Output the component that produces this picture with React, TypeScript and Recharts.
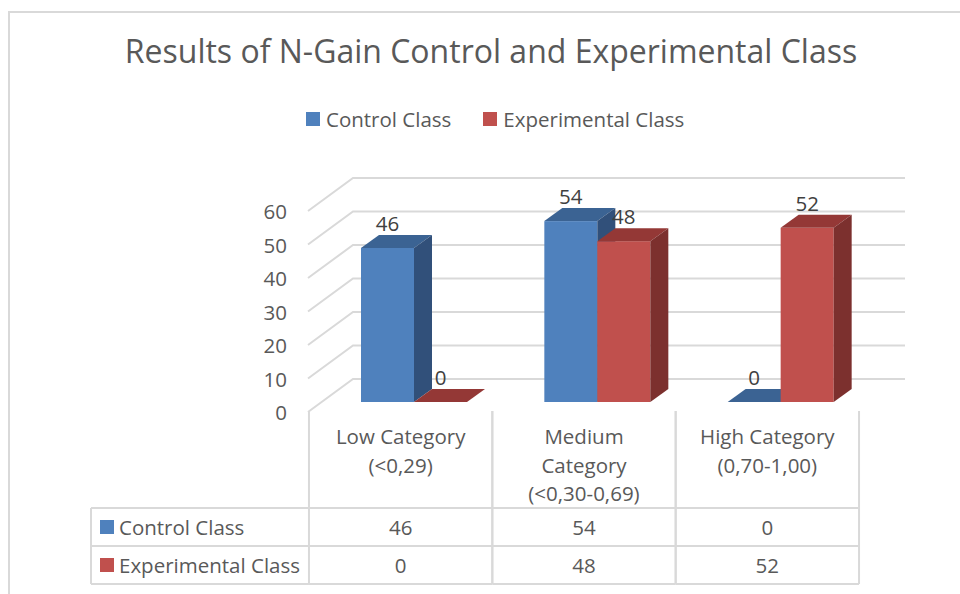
import { Bar, BarChart, CartesianGrid, XAxis, YAxis } from 'recharts';

const CATEGORIES = ['Low Category (<0,29)', 'Medium Category (<0,30-0,69)', 'High Category (0,70-1,00)'];
const CATEGORY_LINES = [
  ['Low Category', '(<0,29)'],
  ['Medium', 'Category', '(<0,30-0,69)'],
  ['High Category', '(0,70-1,00)'],
];
const SERIES = ['Control Class', 'Experimental Class'];
const CONTROL = [46, 54, 0];
const EXPERIMENTAL = [0, 48, 52];
const Y_TICKS = [0, 10, 20, 30, 40, 50, 60];

const data = CATEGORIES.map((name, i) => ({ name, control: CONTROL[i], experimental: EXPERIMENTAL[i] }));

const FONT = '"Open Sans", Lato, sans-serif';
const TEXT = '#595959';
const GRID = '#d9d9d9';
const FS = 20.5;

// 3D offsets: bar depth, bar plane -> front plane, bar plane -> back wall
const DEPTH = { dx: 18, dy: -13 };
const FRONT = { dx: -13, dy: 10 };
const BACK = { dx: 31, dy: -23 };
const WALL_LEFT = 353;
const WALL_RIGHT = 905;
const COL_HALF = 91.7;
const TABLE_TOP = 508;
const ROW_H = 38;
const HEAD_LEFT = 91;

const COLORS = {
  control: { front: '#4f81bd', top: '#3b6393', side: '#31507a' },
  experimental: { front: '#c0504d', top: '#943836', side: '#7c302e' },
};
const SERIES_COLORS = [COLORS.control.front, COLORS.experimental.front];

function makeShape(c: { front: string; top: string; side: string }) {
  return (props: any) => {
    const { x, y, width: w, height } = props;
    const h = Math.max(0, height || 0);
    const { dx, dy } = DEPTH;
    return (
      <g>
        <rect x={x} y={y} width={w} height={h} fill={c.front} />
        <polygon points={`${x},${y} ${x + dx},${y + dy} ${x + w + dx},${y + dy} ${x + w},${y}`} fill={c.top} />
        <polygon
          points={`${x + w},${y} ${x + w + dx},${y + dy} ${x + w + dx},${y + h + dy} ${x + w},${y + h}`}
          fill={c.side}
        />
      </g>
    );
  };
}

const renderLabel = (props: any) => {
  const { x, y, width, value } = props;
  return (
    <text x={x + width / 2} y={y - 25} textAnchor="middle" dominantBaseline="central" fontSize={FS} fill="#404040" fontFamily={FONT}>
      {value}
    </text>
  );
};

const renderGridLine = (props: any) => {
  const { y1, index } = props;
  const fx = props.x1 + FRONT.dx;
  const fy = y1 + FRONT.dy;
  const by = y1 + BACK.dy;
  return (
    <polyline
      key={`g-${index}`}
      points={`${fx - 1},${fy} ${WALL_LEFT},${by} ${WALL_RIGHT},${by}`}
      fill="none"
      stroke={GRID}
      strokeWidth={2}
    />
  );
};

const renderYTick = (props: any) => {
  const { y, payload } = props;
  return (
    <text x={287} y={y + FRONT.dy} textAnchor="end" dominantBaseline="central" fontSize={FS} fill={TEXT} fontFamily={FONT}>
      {payload.value}
    </text>
  );
};

const renderXTick = (props: any) => {
  const { x, index } = props;
  const cx = x + FRONT.dx;
  const left = cx - COL_HALF;
  const right = cx + COL_HALF;
  const lines = CATEGORY_LINES[index] || [];
  const values = [CONTROL[index], EXPERIMENTAL[index]];
  const bottom = TABLE_TOP + ROW_H * 2;
  return (
    <g>
      <line x1={left} y1={411} x2={left} y2={bottom} stroke={GRID} strokeWidth={2} />
      <line x1={right} y1={411} x2={right} y2={bottom} stroke={GRID} strokeWidth={2} />
      {[0, 1, 2].map((r) => (
        <line key={r} x1={left} y1={TABLE_TOP + r * ROW_H} x2={right} y2={TABLE_TOP + r * ROW_H} stroke={GRID} strokeWidth={2} />
      ))}
      {lines.map((t, i) => (
        <text key={t} x={cx} y={436 + i * 28.5} textAnchor="middle" dominantBaseline="central" fontSize={FS} fill={TEXT} fontFamily={FONT}>
          {t}
        </text>
      ))}
      {values.map((v, r) => (
        <text key={r} x={cx} y={TABLE_TOP + r * ROW_H + ROW_H / 2} textAnchor="middle" dominantBaseline="central" fontSize={FS} fill={TEXT} fontFamily={FONT}>
          {v}
        </text>
      ))}
      {index === 0 && (
        <g>
          <line x1={HEAD_LEFT} y1={TABLE_TOP} x2={HEAD_LEFT} y2={bottom} stroke={GRID} strokeWidth={2} />
          {[0, 1, 2].map((r) => (
            <line key={r} x1={HEAD_LEFT} y1={TABLE_TOP + r * ROW_H} x2={left} y2={TABLE_TOP + r * ROW_H} stroke={GRID} strokeWidth={2} />
          ))}
          {SERIES.map((s, r) => (
            <g key={s}>
              <rect x={100} y={TABLE_TOP + r * ROW_H + 12} width={14} height={14} fill={SERIES_COLORS[r]} />
              <text x={119} y={TABLE_TOP + r * ROW_H + ROW_H / 2} dominantBaseline="central" fontSize={FS} fill={TEXT} fontFamily={FONT}>
                {s}
              </text>
            </g>
          ))}
        </g>
      )}
    </g>
  );
};

export default function App() {
  return (
    <div style={{ position: 'absolute', left: 0, top: 0, width: 960, height: 594, background: '#fff', overflow: 'hidden' }}>
      <div style={{ position: 'absolute', left: 8, top: 11, width: 960, height: 600, borderLeft: `2px solid ${GRID}`, borderTop: `2px solid ${GRID}` }} />
      <div
        style={{
          position: 'absolute',
          left: 0,
          width: 982,
          top: 31,
          textAlign: 'center',
          fontFamily: FONT,
          fontSize: 32,
          color: TEXT,
          lineHeight: '40px',
        }}
      >
        Results of N-Gain Control and Experimental Class
      </div>
      <div
        style={{
          position: 'absolute',
          left: 306,
          top: 105,
          height: 28,
          display: 'flex',
          alignItems: 'center',
          gap: 32,
          fontFamily: FONT,
          fontSize: FS,
          color: TEXT,
        }}
      >
        {SERIES.map((s, i) => (
          <span key={s} style={{ display: 'flex', alignItems: 'center' }}>
            <span style={{ width: 14, height: 14, background: SERIES_COLORS[i], marginRight: 6, display: 'inline-block' }} />
            {s}
          </span>
        ))}
      </div>
      <BarChart
        width={960}
        height={594}
        data={data}
        margin={{ top: 201, right: 88, bottom: 162, left: 262 }}
        barGap={0}
        barSize={53}
        style={{ position: 'absolute', left: 0, top: 0 }}
      >
        <CartesianGrid vertical={false} horizontal={renderGridLine} />
        <XAxis dataKey="name" axisLine={false} tickLine={false} interval={0} height={30} tick={renderXTick} />
        <YAxis domain={[0, 60]} ticks={Y_TICKS} axisLine={false} tickLine={false} width={60} tick={renderYTick} />
        <Bar dataKey="control" name={SERIES[0]} fill={COLORS.control.front} shape={makeShape(COLORS.control)} label={renderLabel} isAnimationActive={false} />
        <Bar dataKey="experimental" name={SERIES[1]} fill={COLORS.experimental.front} shape={makeShape(COLORS.experimental)} label={renderLabel} isAnimationActive={false} />
      </BarChart>
    </div>
  );
}
